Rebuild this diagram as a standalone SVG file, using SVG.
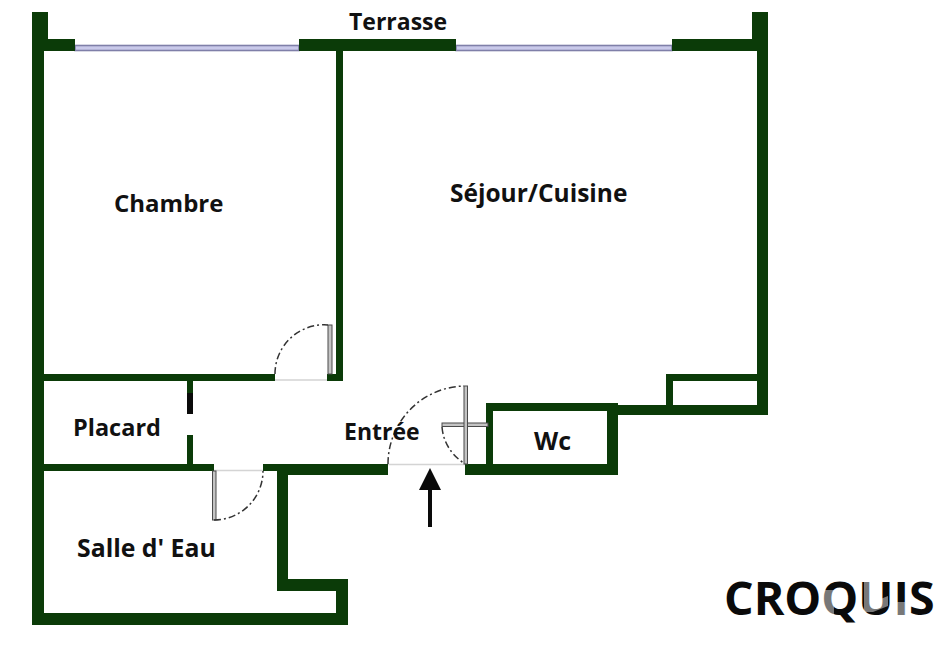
<svg xmlns="http://www.w3.org/2000/svg" width="937" height="667" viewBox="0 0 937 667">
<style>
.wall{fill:#0b3b08}
.win{fill:#c9c9ea;stroke:#7f7fa8;stroke-width:1.6}
.leaf{fill:#c4c4c4;stroke:#4a4a4a;stroke-width:1}
.sill{stroke:#d4d4d4;stroke-width:1.5;fill:none}
.swing{fill:none;stroke:#333;stroke-width:1.5;stroke-dasharray:7 3 2 3}
.lbl{font-family:"Open Sans","Liberation Sans",sans-serif;font-weight:700;fill:#111}
</style>
<rect width="937" height="667" fill="#fff"/>
<g id="windows">
<rect class="win" x="75" y="45.500" width="224" height="5"/>
<rect class="win" x="456" y="45.500" width="216" height="5"/>
</g>
<g id="sills">
<path class="sill" d="M275 380H328M388 464.500H465M214 470.500H263"/>
</g>
<g id="walls" class="wall">
<rect x="32" y="12" width="16" height="39"/>
<rect x="32" y="39" width="43" height="12"/>
<rect x="32" y="39" width="12" height="586"/>
<rect x="32" y="613" width="316" height="12"/>
<rect x="336" y="579" width="12" height="46"/>
<rect x="277" y="579" width="71" height="12"/>
<rect x="277" y="464" width="11" height="127"/>
<rect x="263" y="464" width="125" height="7"/>
<rect x="277" y="464" width="111" height="11"/>
<rect x="44" y="374" width="231" height="7"/>
<rect x="44" y="464" width="170" height="7"/>
<rect x="187" y="381" width="6" height="12"/>
<rect x="187" y="435" width="6" height="29"/>
<rect x="299" y="39" width="157" height="12"/>
<rect x="336" y="51" width="7" height="330"/>
<rect x="327" y="374" width="16" height="7"/>
<rect x="672" y="39" width="96" height="12"/>
<rect x="752" y="12" width="16" height="39"/>
<rect x="757" y="51" width="11" height="364"/>
<rect x="666" y="374" width="91" height="7"/>
<rect x="666" y="374" width="7" height="41"/>
<rect x="618" y="405" width="150" height="10"/>
<rect x="486" y="403" width="132" height="8"/>
<rect x="486" y="403" width="7" height="72"/>
<rect x="607" y="403" width="11" height="72"/>
<rect x="465" y="464" width="153" height="11"/>
</g>
<rect x="187" y="393" width="6" height="21" fill="#0a0a0a"/>
<g id="doors">
<rect class="leaf" x="328" y="325" width="4" height="49"/>
<rect class="leaf" x="212.500" y="471" width="3.500" height="49"/>
<rect class="leaf" x="442" y="423" width="46" height="3.500"/>
<rect class="leaf" x="464" y="386" width="3.500" height="78"/>
<path class="swing" d="M275 374A49 49 0 0 1 328 325"/>
<path class="swing" d="M214 520A49 49 0 0 0 263 471"/>
<path class="swing" d="M388 464A78 78 0 0 1 464 386"/>
<path class="swing" d="M442 427Q444 450 465 464"/>
</g>
<g id="arrow">
<path d="M428 490H432V527H428ZM430 468L441 490H419Z" fill="#0a0a0a"/>
</g>
<g id="labels">
<text class="lbl" x="349" y="30" font-size="23">Terrasse</text>
<text class="lbl" x="114" y="212" font-size="24">Chambre</text>
<text class="lbl" x="450" y="202" font-size="24.500">Séjour/Cuisine</text>
<text class="lbl" x="73" y="436" font-size="23.500">Placard</text>
<text class="lbl" x="344" y="440" font-size="23">Entrée</text>
<text class="lbl" x="534" y="450" font-size="25">Wc</text>
<text class="lbl" x="77" y="557" font-size="24.800">Salle d' Eau</text>
<text class="lbl" x="724" y="615" font-size="46.500" style="fill:#0a0a0a">CROQUIS</text>
</g>
<g id="watermark" fill="#fff" fill-opacity=".45">
<path d="M822 590H834V618H822Z"/>
<path d="M864 581H873V602L888 596V606L873 612H864Z"/>
<path d="M897 602H905V617H897Z"/>
</g>
</svg>
